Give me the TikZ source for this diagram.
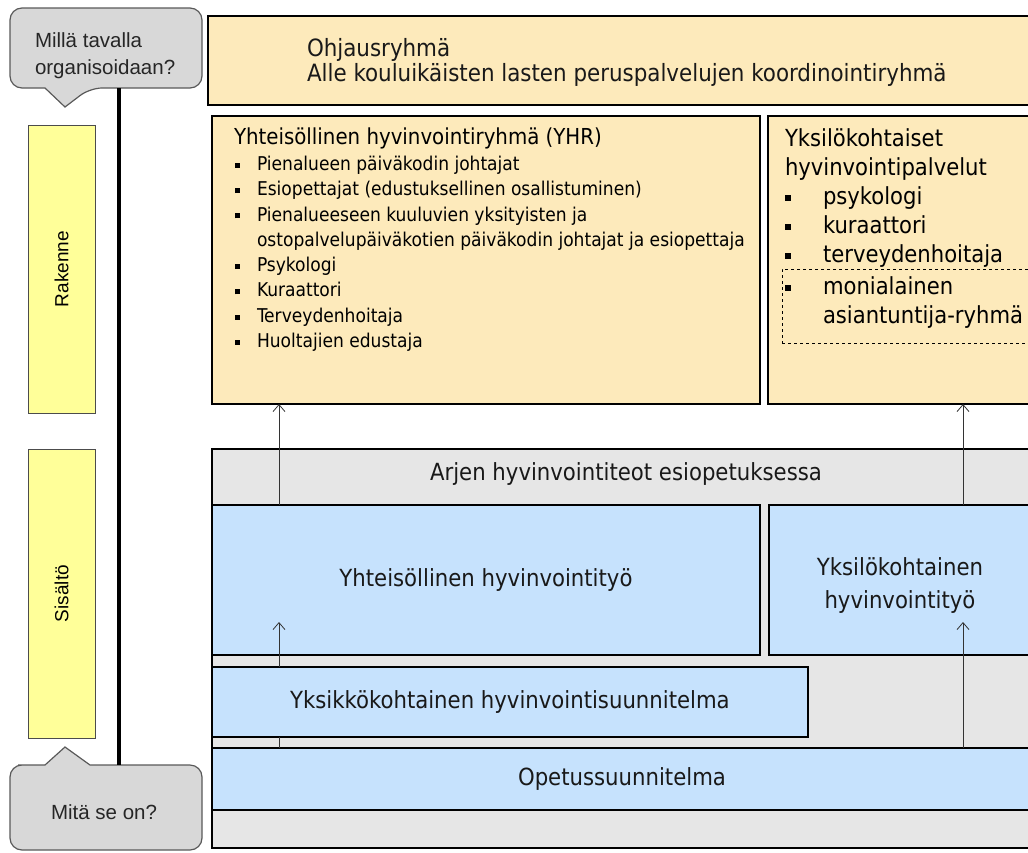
\documentclass[tikz,border=0pt]{standalone}
\usepackage{fontspec}
\setmainfont{DejaVu Sans Condensed}
\newfontfamily\arialfont{Liberation Sans}
\usetikzlibrary{arrows.meta}

\definecolor{peach}{RGB}{253,234,187}
\definecolor{paleblue}{RGB}{198,226,253}
\definecolor{bandgray}{RGB}{230,230,230}
\definecolor{sideyellow}{RGB}{255,255,153}
\definecolor{calloutgray}{RGB}{216,216,216}

% bullets for the lists
\newcommand{\smbul}{\makebox[22pt][l]{\rule[0.25ex]{5pt}{5pt}}}
\newcommand{\bigbul}{\makebox[38pt][l]{\rule[0.3ex]{6pt}{6pt}}}

\begin{document}
\begin{tikzpicture}[x=1pt, y=-1pt,
  every node/.style={inner sep=0pt, outer sep=0pt},
  box/.style={draw, line width=1.1pt, anchor=north west},
  sidebox/.style={draw=black!70, line width=0.8pt, fill=sideyellow, anchor=north west, minimum width=67, minimum height=288},
  callout/.style={draw=black!65, line width=1.2pt, fill=calloutgray},
  calltxt/.style={font=\arialfont\fontsize{20.5}{27}\selectfont, text=black!85},
  sidetxt/.style={font=\arialfont\fontsize{19}{21}\selectfont, rotate=90},
  maintxt/.style={font=\fontsize{23.6}{30}\selectfont, text=black!90},
  arr/.style={-{Straight Barb[length=7pt,width=12pt]}, line width=0.8pt, draw=black!80}]
\useasboundingbox (0,0) rectangle (1028,852);
\clip (0,0) rectangle (1028,852);

% left column
\draw[callout] (10,48) [rounded corners=12] |- (202,8) |- (90,88) [sharp corners] -- (65,107) -- (45,88) -- (30,88) [rounded corners=12] -| (10,48) -- cycle;
\node[calltxt, anchor=west, align=left] (qhow) at (35,56) {Millä tavalla\\organisoidaan?};
\draw[callout] (10,800) [rounded corners=12] |- (30,765) [sharp corners] -- (45,765) -- (65,747) -- (90,765) -- (120,765) [rounded corners=12] -| (202,850) -| (10,800) -- cycle;
\node[calltxt] (qwhat) at (104,812) {Mitä se on?};
\coordinate (howend) at (119,88);
\coordinate (whatend) at (119,765);
\draw[line width=4pt] (howend) -- (whatend);

\node[sidebox] (rakenne) at (28,125) {};
\node[sidetxt] (rakennetxt) at (rakenne.center) {Rakenne};
\node[sidebox, minimum height=289] (sisalto) at (28,449) {};
\node[sidetxt] (sisaltotxt) at (sisalto.center) {Sisältö};

% rakenne
\node[box, fill=peach, minimum width=824, minimum height=89] (ohjaus) at (208,16) {};
\node[maintxt, anchor=west, align=left, font=\fontsize{23.8}{25.5}\selectfont] (ohjaustxt) at (307,62.5) {Ohjausryhmä\\Alle kouluikäisten lasten peruspalvelujen koordinointiryhmä};

\node[box, fill=peach, minimum width=548, minimum height=288] (yhr) at (212,116) {};
\node[anchor=west, font=\fontsize{22}{26}\selectfont] (yhrtitle) at (234,138) {Yhteisöllinen hyvinvointiryhmä (YHR)};
\node[anchor=north west, align=left, font=\fontsize{19}{25.3}\selectfont] (yhrlist) at (235,156)
  {\smbul Pienalueen päiväkodin johtajat\\
   \smbul Esiopettajat (edustuksellinen osallistuminen)\\
   \smbul Pienalueeseen kuuluvien yksityisten ja\\
   \hspace*{22pt}ostopalvelupäiväkotien päiväkodin johtajat ja esiopettaja\\
   \smbul Psykologi\\
   \smbul Kuraattori\\
   \smbul Terveydenhoitaja\\
   \smbul Huoltajien edustaja};

\node[box, fill=peach, minimum width=264, minimum height=288] (yksilo) at (768,116) {};
\node[draw, dashed, line width=0.7pt, anchor=north west, minimum width=260, minimum height=74] (monibox) at (782,269) {};
\node[anchor=north west, align=left, font=\fontsize{23.5}{29}\selectfont] (yksilolist) at (785,129)
  {Yksilökohtaiset\\
   hyvinvointipalvelut\\
   \bigbul psykologi\\
   \bigbul kuraattori\\
   \bigbul terveydenhoitaja\\[3pt]
   \bigbul monialainen\\
   \hspace*{38pt}asiantuntija-ryhmä};

% sisalto
\node[box, fill=bandgray, minimum width=820, minimum height=399] (arki) at (212,449) {};
\node[maintxt] (arkitxt) at (626,474) {Arjen hyvinvointiteot esiopetuksessa};
\node[box, fill=paleblue, minimum width=548, minimum height=150, maintxt] (yhteisotyo) at (212,505) {Yhteisöllinen hyvinvointityö};
\node[box, fill=paleblue, minimum width=263, minimum height=150] (yksilotyo) at (769,505) {};
\node[maintxt, align=center, font=\fontsize{23.6}{33}\selectfont] (yksilotyotxt) at (900,585) {Yksilökohtainen\\hyvinvointityö};
\node[box, fill=paleblue, minimum width=596, minimum height=70, maintxt] (yksikko) at (212,667) {Yksikkökohtainen hyvinvointisuunnitelma};
\node[box, fill=paleblue, minimum width=820, minimum height=62, maintxt] (opetus) at (212,748) {Opetussuunnitelma};

% nuolet
\coordinate (leftx) at (279,0);
\coordinate (rightx) at (963,0);
\draw[arr] (yhteisotyo.north -| leftx) -- (yhr.south -| leftx);
\draw[arr] (yksilotyo.north -| rightx) -- (yksilo.south -| rightx);
\draw[arr] (yksikko.north -| leftx) -- ([yshift=33]yhteisotyo.south -| leftx);
\draw[line width=0.8pt, black!80] (opetus.north -| leftx) -- (yksikko.south -| leftx);
\draw[arr] (opetus.north -| rightx) -- ([yshift=33]yksilotyo.south -| rightx);
\end{tikzpicture}
\end{document}
